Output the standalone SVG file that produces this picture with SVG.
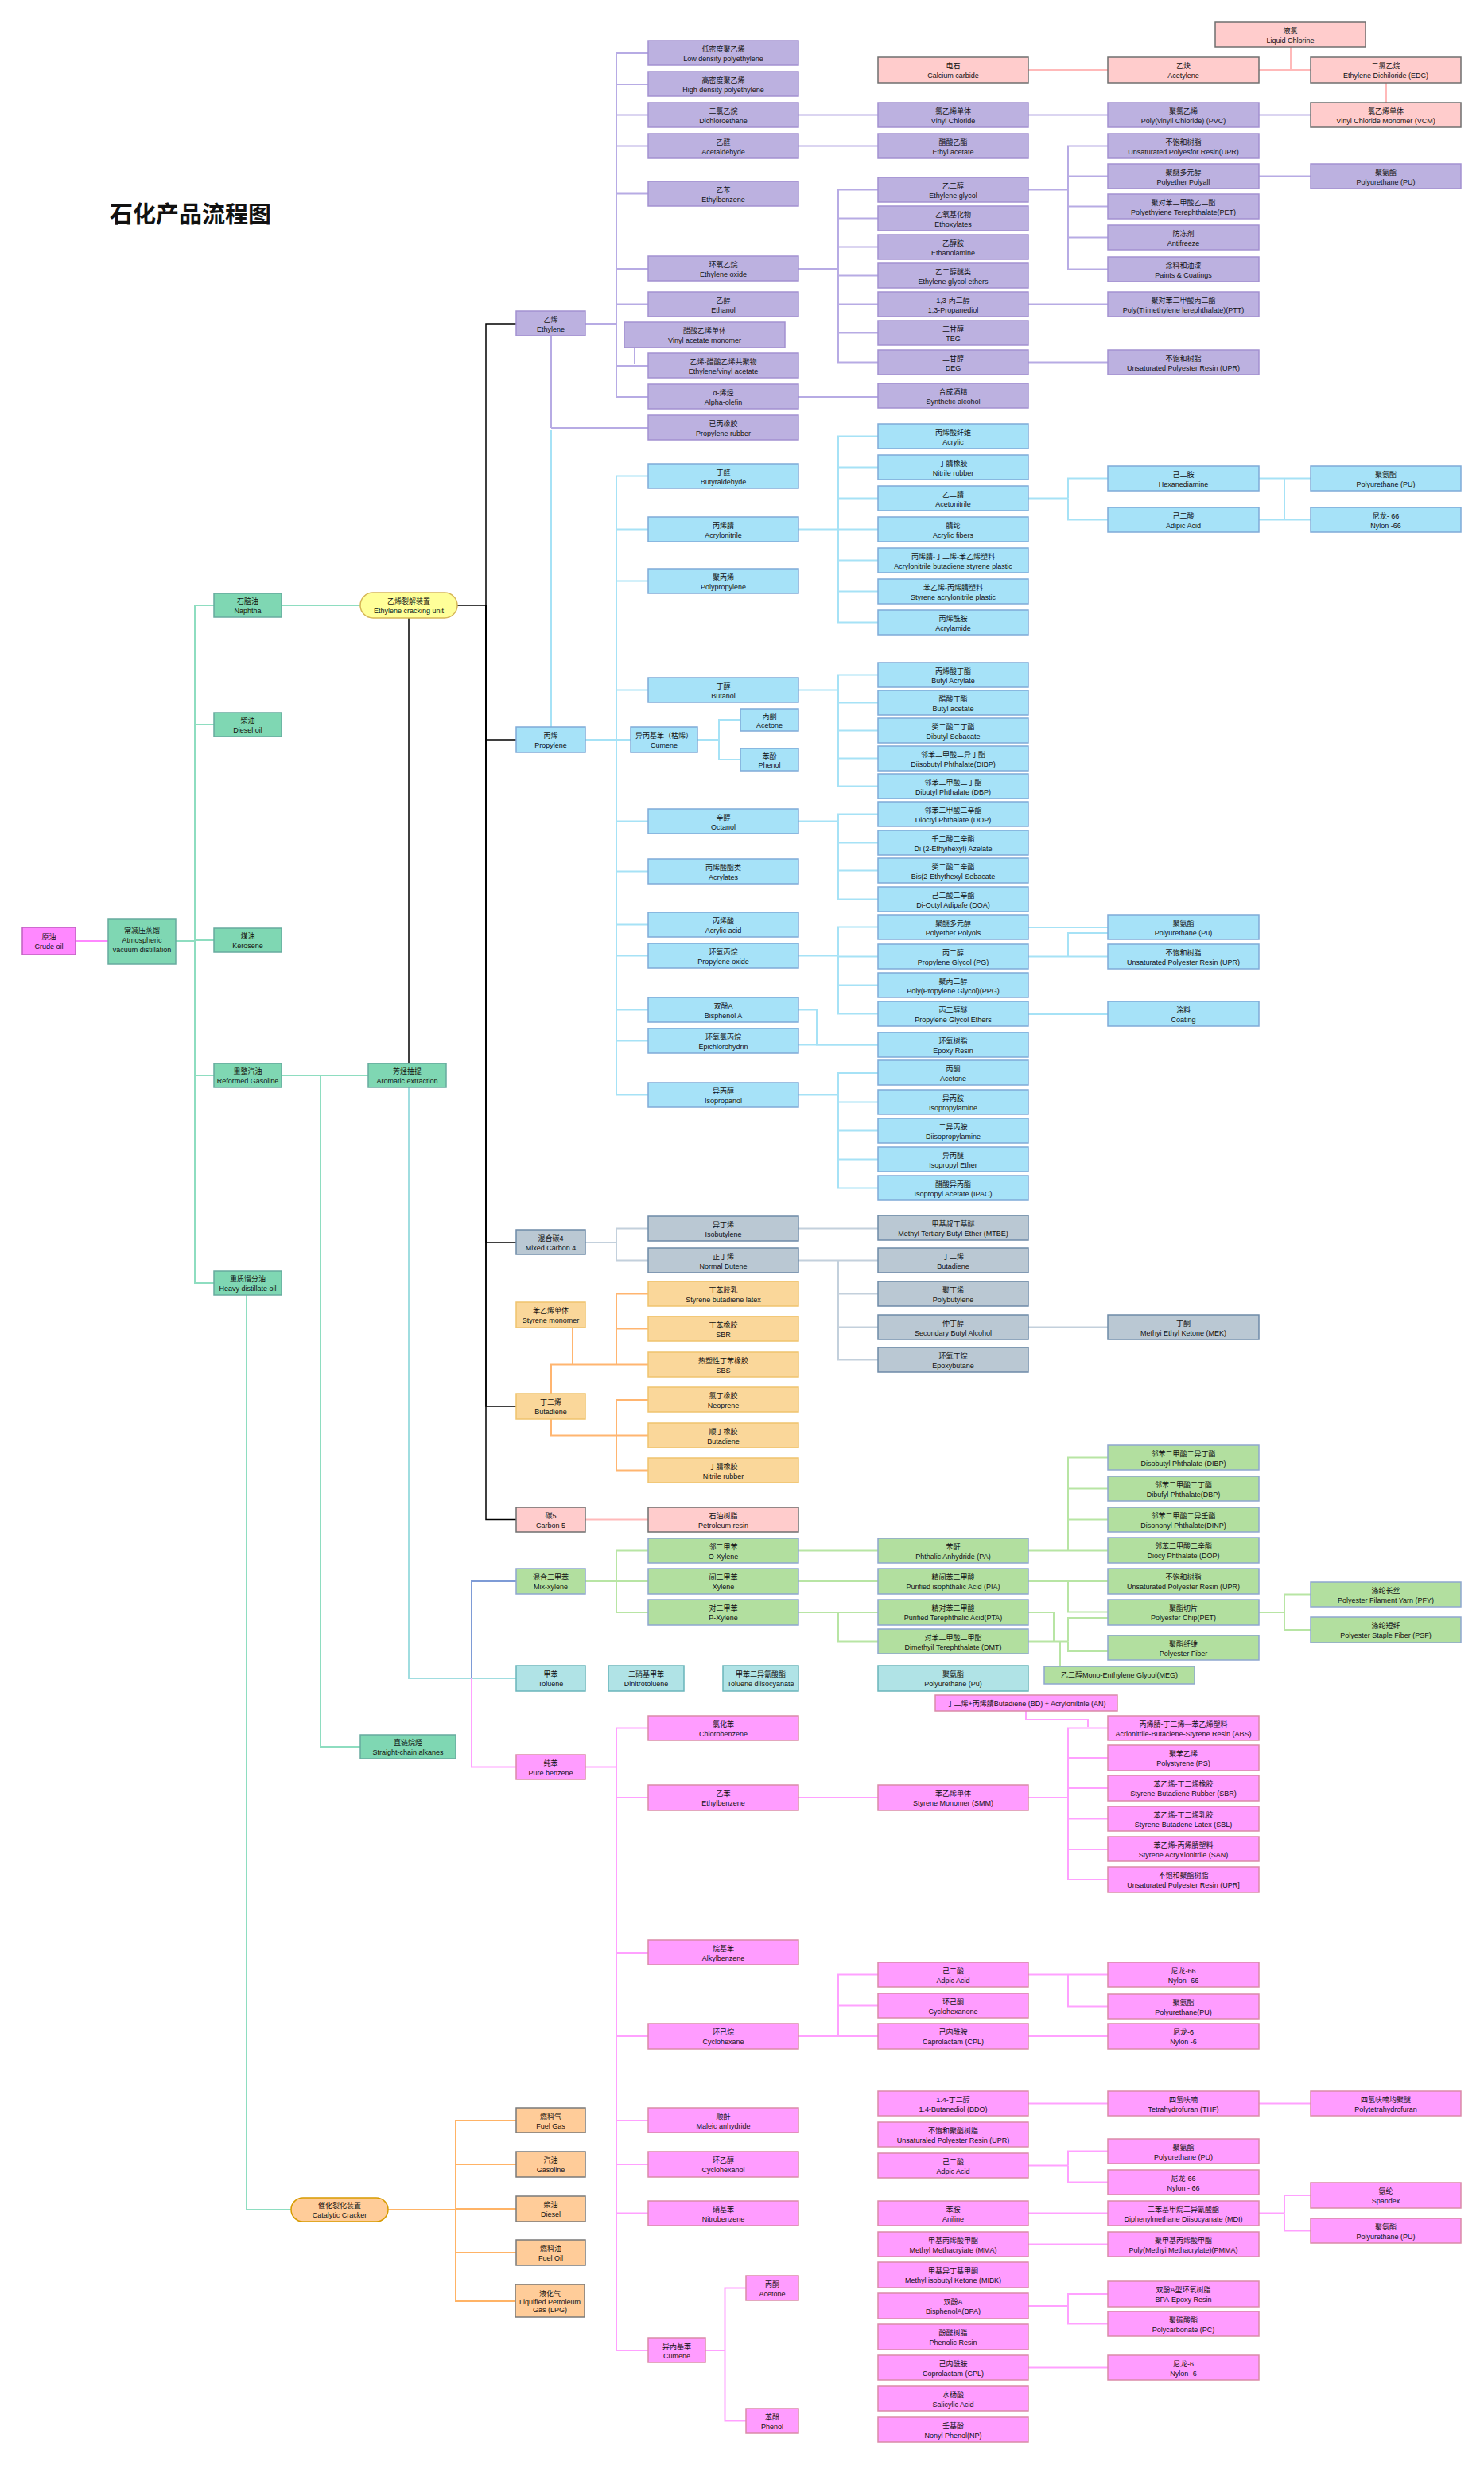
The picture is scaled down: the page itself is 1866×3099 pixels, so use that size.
<svg xmlns="http://www.w3.org/2000/svg" width="1866" height="3099" viewBox="0 0 1866 3099">
<style>
text{font-family:"Liberation Sans","Noto Sans CJK SC",sans-serif;font-size:9px;text-anchor:middle;fill:#111}
.title{font-size:29px;font-weight:bold;text-anchor:start}
rect{stroke-width:1.5}
.pe rect{fill:#BCB1E0;stroke:#A391D1}
.pp rect{fill:#A6E2F8;stroke:#7FAAD8}
.c4 rect{fill:#BAC8D3;stroke:#6E8AA8}
.bd rect{fill:#FAD79A;stroke:#EFC36E}
.c5 rect{fill:#FFCCCC;stroke:#6F6F6F}
.xy rect{fill:#B2DF9F;stroke:#8EA7CF}
.tl rect{fill:#B0E3E6;stroke:#6AB5BB}
.bz rect{fill:#FF9CFF;stroke:#DA8AA8}
.fu rect{fill:#FFCC99;stroke:#7A7A7A}
.mn rect{fill:#7FD7B3;stroke:#67AB9F}
.cr rect{fill:#FF88FF;stroke:#C060C0}
.ec rect{fill:#FFFF99;stroke:#D6B656}
.cc rect{fill:#FFCC99;stroke:#D79B00}
path{fill:none;stroke-width:2}
.lpe{stroke:#B7ABE4;marker-end:url(#ape)}
.lpp{stroke:#A6E2F6;marker-end:url(#app)}
.lc4{stroke:#C3D0DC;marker-end:url(#ac4)}
.lbd{stroke:#FFB570;marker-end:url(#abd)}
.lc5{stroke:#FFB9B9;marker-end:url(#ac5)}
.lxy{stroke:#B8E5A4;marker-end:url(#axy)}
.ltl{stroke:#A0DDE0;marker-end:url(#atl)}
.lbz{stroke:#FFA1FF;marker-end:url(#abz)}
.lfu{stroke:#FFB366;marker-end:url(#afu)}
.lmn{stroke:#8EDDC0;marker-end:url(#amn)}
.lbk{stroke:#000;stroke-width:1.5;marker-end:url(#abk)}
.lmx{stroke:#7E9BD6;marker-end:url(#amx)}
.lcr{stroke:#FF88FF;marker-end:url(#acr)}
.nm{marker-end:none}
</style>
<defs>
<marker id="ape" viewBox="0 0 10 10" refX="10" refY="5" markerWidth="9" markerHeight="9" markerUnits="userSpaceOnUse" orient="auto"><path d="M0,0 L10,5 L0,10 L3,5 z" fill="#B7ABE4" stroke="none"/></marker>
<marker id="app" viewBox="0 0 10 10" refX="10" refY="5" markerWidth="9" markerHeight="9" markerUnits="userSpaceOnUse" orient="auto"><path d="M0,0 L10,5 L0,10 L3,5 z" fill="#A6E2F6" stroke="none"/></marker>
<marker id="ac4" viewBox="0 0 10 10" refX="10" refY="5" markerWidth="9" markerHeight="9" markerUnits="userSpaceOnUse" orient="auto"><path d="M0,0 L10,5 L0,10 L3,5 z" fill="#C3D0DC" stroke="none"/></marker>
<marker id="abd" viewBox="0 0 10 10" refX="10" refY="5" markerWidth="9" markerHeight="9" markerUnits="userSpaceOnUse" orient="auto"><path d="M0,0 L10,5 L0,10 L3,5 z" fill="#FFB570" stroke="none"/></marker>
<marker id="ac5" viewBox="0 0 10 10" refX="10" refY="5" markerWidth="9" markerHeight="9" markerUnits="userSpaceOnUse" orient="auto"><path d="M0,0 L10,5 L0,10 L3,5 z" fill="#FFB9B9" stroke="none"/></marker>
<marker id="axy" viewBox="0 0 10 10" refX="10" refY="5" markerWidth="9" markerHeight="9" markerUnits="userSpaceOnUse" orient="auto"><path d="M0,0 L10,5 L0,10 L3,5 z" fill="#B8E5A4" stroke="none"/></marker>
<marker id="atl" viewBox="0 0 10 10" refX="10" refY="5" markerWidth="9" markerHeight="9" markerUnits="userSpaceOnUse" orient="auto"><path d="M0,0 L10,5 L0,10 L3,5 z" fill="#A0DDE0" stroke="none"/></marker>
<marker id="abz" viewBox="0 0 10 10" refX="10" refY="5" markerWidth="9" markerHeight="9" markerUnits="userSpaceOnUse" orient="auto"><path d="M0,0 L10,5 L0,10 L3,5 z" fill="#FFA1FF" stroke="none"/></marker>
<marker id="afu" viewBox="0 0 10 10" refX="10" refY="5" markerWidth="9" markerHeight="9" markerUnits="userSpaceOnUse" orient="auto"><path d="M0,0 L10,5 L0,10 L3,5 z" fill="#FFB366" stroke="none"/></marker>
<marker id="amn" viewBox="0 0 10 10" refX="10" refY="5" markerWidth="9" markerHeight="9" markerUnits="userSpaceOnUse" orient="auto"><path d="M0,0 L10,5 L0,10 L3,5 z" fill="#8EDDC0" stroke="none"/></marker>
<marker id="abk" viewBox="0 0 10 10" refX="10" refY="5" markerWidth="9" markerHeight="9" markerUnits="userSpaceOnUse" orient="auto"><path d="M0,0 L10,5 L0,10 L3,5 z" fill="#000" stroke="none"/></marker>
<marker id="amx" viewBox="0 0 10 10" refX="10" refY="5" markerWidth="9" markerHeight="9" markerUnits="userSpaceOnUse" orient="auto"><path d="M0,0 L10,5 L0,10 L3,5 z" fill="#7E9BD6" stroke="none"/></marker>
<marker id="acr" viewBox="0 0 10 10" refX="10" refY="5" markerWidth="9" markerHeight="9" markerUnits="userSpaceOnUse" orient="auto"><path d="M0,0 L10,5 L0,10 L3,5 z" fill="#FF88FF" stroke="none"/></marker>
</defs>
<rect width="1866" height="3099" fill="#fff"/>
<text class="title" x="138" y="280">石化产品流程图</text>

<g id="connectors">
<!-- left -->
<path class="lcr" d="M95,1183 H136"/>
<path class="lmn nm" d="M221,1183 H245"/>
<path class="lmn" d="M245,1183 V761 H269"/>
<path class="lmn" d="M245,1183 V911 H269"/>
<path class="lmn" d="M245,1183 V1182 H269"/>
<path class="lmn" d="M245,1183 V1352 H269"/>
<path class="lmn" d="M245,1183 V1613 H269"/>
<path class="lmn" d="M354,761 H453"/>
<path class="lmn" d="M354,1352 H463"/>
<path class="lmn" d="M403,1352 V2196 H453"/>
<path class="lmn" d="M310,1627 V2778 H366"/>
<path class="lbk nm" d="M575,761 H611"/>
<path class="lbk" d="M611,761 V407 H649"/>
<path class="lbk" d="M611,761 V930 H649"/>
<path class="lbk" d="M611,761 V1562 H649"/>
<path class="lbk" d="M611,761 V1768 H649"/>
<path class="lbk" d="M611,761 V1910.5 H649"/>
<path class="lbk" d="M514,777 V1338"/>
<path class="ltl" d="M514,1366 V2110 H649"/>
<path class="lmx" d="M593,2110 V1988 H649"/>
<path class="lbz" d="M593,2110 V2221.5 H649"/>
<path class="lfu nm" d="M488,2778 H573"/>
<path class="lfu" d="M573,2778 V2666 H649"/>
<path class="lfu" d="M573,2778 V2721 H649"/>
<path class="lfu" d="M573,2778 V2777 H649"/>
<path class="lfu" d="M573,2778 V2832 H649"/>
<path class="lfu" d="M573,2778 V2893 H649"/>
<!-- ethylene -->
<path class="lpe nm" d="M736,407 H775"/>
<path class="lpe" d="M775,407 V67 H815"/>
<path class="lpe" d="M775,407 V106 H815"/>
<path class="lpe" d="M775,407 V144.5 H815"/>
<path class="lpe" d="M775,407 V183.5 H815"/>
<path class="lpe" d="M775,407 V243.5 H815"/>
<path class="lpe" d="M775,407 V338 H815"/>
<path class="lpe" d="M775,407 V382.5 H815"/>
<path class="lpe" d="M775,407 V460 H815"/>
<path class="lpe" d="M775,407 V499 H815"/>
<path class="lpe" d="M798,437 V458"/>
<path class="lpe" d="M693,422 V538"/>
<path class="lpe" d="M693,538 H815"/>
<path class="lpe" d="M1004,144.5 H1104"/>
<path class="lpe" d="M1004,183.5 H1104"/>
<path class="lpe nm" d="M1004,338 H1054"/>
<path class="lpe" d="M1054,338 V238.5 H1104"/>
<path class="lpe" d="M1054,338 V274.5 H1104"/>
<path class="lpe" d="M1054,338 V310.5 H1104"/>
<path class="lpe" d="M1054,338 V346.5 H1104"/>
<path class="lpe" d="M1054,338 V382.5 H1104"/>
<path class="lpe" d="M1054,338 V418.5 H1104"/>
<path class="lpe" d="M1054,338 V455.5 H1104"/>
<path class="lpe" d="M1004,499 H1104"/>
<path class="lpe" d="M1293,144.5 H1393"/>
<path class="lpe" d="M1648,144.5 H1583"/>
<path class="lpe nm" d="M1293,238.5 H1343"/>
<path class="lpe" d="M1343,238.5 V183.5 H1393"/>
<path class="lpe" d="M1343,238.5 V221.5 H1393"/>
<path class="lpe" d="M1343,238.5 V259.5 H1393"/>
<path class="lpe" d="M1343,238.5 V298.5 H1393"/>
<path class="lpe" d="M1343,238.5 V338.5 H1393"/>
<path class="lpe" d="M1583,221.5 H1648"/>
<path class="lpe" d="M1293,382.5 H1393"/>
<path class="lpe" d="M1293,455.5 H1393"/>
<!-- calcium carbide -->
<path class="lc5" d="M1293,88 H1393"/>
<path class="lc5" d="M1583,88 H1648"/>
<path class="lc5" d="M1623,59 V88"/>
<path class="lc5" d="M1743,104 V129"/>
<path class="lc5" d="M736,1910.5 H815"/>
<!-- propylene -->
<path class="lpp" d="M693,914 V541"/>
<path class="lpp" d="M736,930 H793"/>
<path class="lpp" d="M775,930 V598.5 H815"/>
<path class="lpp" d="M775,930 V665.5 H815"/>
<path class="lpp" d="M775,930 V730.5 H815"/>
<path class="lpp" d="M775,930 V867.5 H815"/>
<path class="lpp" d="M775,930 V1032.5 H815"/>
<path class="lpp" d="M775,930 V1095.5 H815"/>
<path class="lpp" d="M775,930 V1162.5 H815"/>
<path class="lpp" d="M775,930 V1201.5 H815"/>
<path class="lpp" d="M775,930 V1269.5 H815"/>
<path class="lpp" d="M775,930 V1308.5 H815"/>
<path class="lpp" d="M775,930 V1376.5 H815"/>
<path class="lpp nm" d="M1004,665.5 H1054"/>
<path class="lpp" d="M1054,665.5 V548.5 H1104"/>
<path class="lpp" d="M1054,665.5 V587.5 H1104"/>
<path class="lpp" d="M1054,665.5 V626.5 H1104"/>
<path class="lpp" d="M1054,665.5 V665.5 H1104"/>
<path class="lpp" d="M1054,665.5 V704.5 H1104"/>
<path class="lpp" d="M1054,665.5 V743.5 H1104"/>
<path class="lpp" d="M1054,665.5 V782.5 H1104"/>
<path class="lpp nm" d="M1004,867.5 H1054"/>
<path class="lpp" d="M1054,867.5 V848.5 H1104"/>
<path class="lpp" d="M1054,867.5 V883.5 H1104"/>
<path class="lpp" d="M1054,867.5 V918.5 H1104"/>
<path class="lpp" d="M1054,867.5 V953.5 H1104"/>
<path class="lpp" d="M1054,867.5 V988.5 H1104"/>
<path class="lpp nm" d="M877,930 H904"/>
<path class="lpp" d="M904,930 V905 H931"/>
<path class="lpp" d="M904,930 V955 H931"/>
<path class="lpp nm" d="M1004,1032.5 H1054"/>
<path class="lpp" d="M1054,1032.5 V1023.5 H1104"/>
<path class="lpp" d="M1054,1032.5 V1059.5 H1104"/>
<path class="lpp" d="M1054,1032.5 V1094.5 H1104"/>
<path class="lpp" d="M1054,1032.5 V1130.5 H1104"/>
<path class="lpp nm" d="M1004,1201.5 H1054"/>
<path class="lpp" d="M1054,1201.5 V1165.5 H1104"/>
<path class="lpp" d="M1054,1201.5 V1202.5 H1104"/>
<path class="lpp" d="M1054,1201.5 V1238.5 H1104"/>
<path class="lpp" d="M1054,1201.5 V1274.5 H1104"/>
<path class="lpp" d="M1004,1269.5 H1027 V1313.5 H1104"/>
<path class="lpp" d="M1004,1313.5 H1104"/>
<path class="lpp nm" d="M1004,1376.5 H1054"/>
<path class="lpp" d="M1054,1376.5 V1349 H1104"/>
<path class="lpp" d="M1054,1376.5 V1385.5 H1104"/>
<path class="lpp" d="M1054,1376.5 V1421.5 H1104"/>
<path class="lpp" d="M1054,1376.5 V1457.5 H1104"/>
<path class="lpp" d="M1054,1376.5 V1493.5 H1104"/>
<path class="lpp nm" d="M1293,626.5 H1343"/>
<path class="lpp" d="M1343,626.5 V601.5 H1393"/>
<path class="lpp" d="M1343,626.5 V653.5 H1393"/>
<path class="lpp" d="M1583,601.5 H1648"/>
<path class="lpp" d="M1583,653.5 H1648"/>
<path class="lpp nm" d="M1615,601.5 V653.5"/>
<path class="lpp" d="M1293,1166 H1393"/>
<path class="lpp" d="M1293,1202.5 H1393"/>
<path class="lpp" d="M1343,1202.5 V1173 H1393"/>
<path class="lpp" d="M1293,1275 H1393"/>
<!-- C4 -->
<path class="lc4 nm" d="M736,1562 H775"/>
<path class="lc4" d="M775,1562 V1544.5 H815"/>
<path class="lc4" d="M775,1562 V1584.5 H815"/>
<path class="lc4" d="M1004,1544.5 H1104"/>
<path class="lc4 nm" d="M1004,1584.5 H1054"/>
<path class="lc4" d="M1054,1584.5 H1104"/>
<path class="lc4" d="M1054,1584.5 V1626.5 H1104"/>
<path class="lc4" d="M1054,1584.5 V1668.5 H1104"/>
<path class="lc4" d="M1054,1584.5 V1709.5 H1104"/>
<path class="lc4" d="M1293,1668.5 H1393"/>
<!-- butadiene -->
<path class="lbd" d="M720,1669 V1715"/>
<path class="lbd" d="M693,1752 V1715.5 H815"/>
<path class="lbd" d="M775,1715.5 V1626.5 H815"/>
<path class="lbd" d="M775,1715.5 V1670.5 H815"/>
<path class="lbd" d="M693,1784 V1804.5 H815"/>
<path class="lbd" d="M775,1804.5 V1760 H815"/>
<path class="lbd" d="M775,1804.5 V1848.5 H815"/>
<!-- xylene -->
<path class="lxy nm" d="M736,1988 H775"/>
<path class="lxy" d="M775,1988 V1949.5 H815"/>
<path class="lxy" d="M775,1988 H815"/>
<path class="lxy" d="M775,1988 V2027 H815"/>
<path class="lxy" d="M1004,1949.5 H1104"/>
<path class="lxy" d="M1004,1988 H1104"/>
<path class="lxy" d="M1004,2027 H1104"/>
<path class="lxy" d="M1054,2027 V2063.5 H1104"/>
<path class="lxy nm" d="M1293,1949.5 H1343"/>
<path class="lxy" d="M1343,1949.5 V1832.5 H1393"/>
<path class="lxy" d="M1343,1949.5 V1871.5 H1393"/>
<path class="lxy" d="M1343,1949.5 V1910.5 H1393"/>
<path class="lxy" d="M1343,1949.5 H1393"/>
<path class="lxy" d="M1293,1988 H1393"/>
<path class="lxy" d="M1343,1988 V2026.5 H1393"/>
<path class="lxy nm" d="M1293,2027 H1325 V2063.5"/>
<path class="lxy nm" d="M1293,2063.5 H1343"/>
<path class="lxy" d="M1343,2063.5 V2034 H1393"/>
<path class="lxy" d="M1343,2063.5 V2076 H1393"/>
<path class="lxy" d="M1333,2095 V2064"/>
<path class="lxy nm" d="M1583,2027 H1615"/>
<path class="lxy" d="M1615,2027 V2004.5 H1648"/>
<path class="lxy" d="M1615,2027 V2049 H1648"/>
<!-- benzene -->
<path class="lbz nm" d="M736,2221.5 H775"/>
<path class="lbz" d="M775,2221.5 V2172.5 H815"/>
<path class="lbz" d="M775,2221.5 V2260 H815"/>
<path class="lbz" d="M775,2221.5 V2455 H815"/>
<path class="lbz" d="M775,2221.5 V2560 H815"/>
<path class="lbz" d="M775,2221.5 V2666 H815"/>
<path class="lbz" d="M775,2221.5 V2721 H815"/>
<path class="lbz" d="M775,2221.5 V2782.5 H815"/>
<path class="lbz" d="M775,2221.5 V2955 H815"/>
<path class="lbz" d="M1004,2260 H1104"/>
<path class="lbz nm" d="M1293,2260 H1343"/>
<path class="lbz" d="M1343,2260 V2172.5 H1393"/>
<path class="lbz" d="M1343,2260 V2210 H1393"/>
<path class="lbz" d="M1343,2260 V2248 H1393"/>
<path class="lbz" d="M1343,2260 V2286.5 H1393"/>
<path class="lbz" d="M1343,2260 V2325 H1393"/>
<path class="lbz" d="M1343,2260 V2363 H1393"/>
<path class="lbz" d="M1290,2151 V2162 H1368 V2171"/>
<path class="lbz nm" d="M1004,2560 H1054"/>
<path class="lbz" d="M1054,2560 V2482.5 H1104"/>
<path class="lbz" d="M1054,2560 V2521.5 H1104"/>
<path class="lbz" d="M1054,2560 H1104"/>
<path class="lbz" d="M1293,2482.5 H1393"/>
<path class="lbz" d="M1343,2482.5 V2522.5 H1393"/>
<path class="lbz" d="M1293,2560 H1393"/>
<path class="lbz nm" d="M887,2955 H911.5"/>
<path class="lbz" d="M911.5,2955 V2876.5 H938"/>
<path class="lbz" d="M911.5,2955 V3043.5 H938"/>
<path class="lbz" d="M1293,2644.5 H1393"/>
<path class="lbz" d="M1583,2644.5 H1648"/>
<path class="lbz nm" d="M1293,2722.5 H1343"/>
<path class="lbz" d="M1343,2722.5 V2704.5 H1393"/>
<path class="lbz" d="M1343,2722.5 V2743.5 H1393"/>
<path class="lbz" d="M1293,2782.5 H1393"/>
<path class="lbz nm" d="M1583,2782.5 H1615"/>
<path class="lbz" d="M1615,2782.5 V2760 H1648"/>
<path class="lbz" d="M1615,2782.5 V2804.5 H1648"/>
<path class="lbz" d="M1293,2821.5 H1393"/>
<path class="lbz nm" d="M1293,2899 H1343"/>
<path class="lbz" d="M1343,2899 V2884 H1393"/>
<path class="lbz" d="M1343,2899 V2921.5 H1393"/>
<path class="lbz" d="M1293,2976.5 H1393"/>
</g>

<!-- left nodes -->
<g id="crude-oil" class="cr"><rect x="28" y="1166" width="67" height="34"/><text x="61.5" y="1181">原油<tspan x="61.5" dy="12">Crude oil</tspan></text></g>
<g id="distillation" class="mn"><rect x="136" y="1155" width="85" height="57"/><text x="178.5" y="1173">常减压蒸馏<tspan x="178.5" dy="12">Atmospheric</tspan><tspan x="178.5" dy="12">vacuum distillation</tspan></text></g>
<g id="naphtha" class="mn"><rect x="269" y="746" width="85" height="30"/><text x="311.5" y="759">石脑油<tspan x="311.5" dy="12">Naphtha</tspan></text></g>
<g id="diesel-oil" class="mn"><rect x="269" y="896" width="85" height="30"/><text x="311.5" y="909">柴油<tspan x="311.5" dy="12">Diesel oil</tspan></text></g>
<g id="kerosene" class="mn"><rect x="269" y="1167" width="85" height="30"/><text x="311.5" y="1180">煤油<tspan x="311.5" dy="12">Kerosene</tspan></text></g>
<g id="reformed-gasoline" class="mn"><rect x="269" y="1337" width="85" height="30"/><text x="311.5" y="1350">重整汽油<tspan x="311.5" dy="12">Reformed Gasoline</tspan></text></g>
<g id="heavy-distillate" class="mn"><rect x="269" y="1598" width="85" height="30"/><text x="311.5" y="1611">重质馏分油<tspan x="311.5" dy="12">Heavy distillate oil</tspan></text></g>
<g id="ethylene-cracking" class="ec"><rect x="453" y="745" width="122" height="32" rx="16"/><text x="514" y="759">乙烯裂解装置<tspan x="514" dy="12">Ethylene cracking unit</tspan></text></g>
<g id="aromatic-extraction" class="mn"><rect x="463" y="1337" width="98" height="30"/><text x="512" y="1350">芳烃抽提<tspan x="512" dy="12">Aromatic extraction</tspan></text></g>
<g id="straight-chain" class="mn"><rect x="453" y="2181" width="120" height="30"/><text x="513" y="2194">直链烷烃<tspan x="513" dy="12">Straight-chain alkanes</tspan></text></g>
<g id="catalytic-cracker" class="cc"><rect x="366" y="2763" width="122" height="30" rx="15"/><text x="427" y="2776">催化裂化装置<tspan x="427" dy="12">Catalytic Cracker</tspan></text></g>

<!-- ethylene -->
<g id="ethylene" class="pe"><rect x="649" y="391" width="87" height="31"/><text x="692.5" y="404.5">乙烯<tspan x="692.5" dy="12">Ethylene</tspan></text></g>
<g id="ldpe" class="pe"><rect x="815" y="51" width="189" height="31"/><text x="909.5" y="64.5">低密度聚乙烯<tspan x="909.5" dy="12">Low density polyethylene</tspan></text></g>
<g id="hdpe" class="pe"><rect x="815" y="90" width="189" height="31"/><text x="909.5" y="103.5">高密度聚乙烯<tspan x="909.5" dy="12">High density polyethylene</tspan></text></g>
<g id="dichloroethane" class="pe"><rect x="815" y="129" width="189" height="31"/><text x="909.5" y="142.5">二氯乙烷<tspan x="909.5" dy="12">Dichloroethane</tspan></text></g>
<g id="acetaldehyde" class="pe"><rect x="815" y="168" width="189" height="31"/><text x="909.5" y="181.5">乙醛<tspan x="909.5" dy="12">Acetaldehyde</tspan></text></g>
<g id="ethylbenzene-1" class="pe"><rect x="815" y="228" width="189" height="31"/><text x="909.5" y="241.5">乙苯<tspan x="909.5" dy="12">Ethylbenzene</tspan></text></g>
<g id="ethylene-oxide" class="pe"><rect x="815" y="322" width="189" height="31"/><text x="909.5" y="335.5">环氧乙烷<tspan x="909.5" dy="12">Ethylene oxide</tspan></text></g>
<g id="ethanol" class="pe"><rect x="815" y="367" width="189" height="31"/><text x="909.5" y="380.5">乙醇<tspan x="909.5" dy="12">Ethanol</tspan></text></g>
<g id="vam" class="pe"><rect x="785" y="405" width="202" height="32"/><text x="886" y="418.5">醋酸乙烯单体<tspan x="886" dy="12">Vinyl acetate monomer</tspan></text></g>
<g id="eva" class="pe"><rect x="815" y="444" width="189" height="31"/><text x="909.5" y="457.5">乙烯-醋酸乙烯共聚物<tspan x="909.5" dy="12">Ethylene/vinyl acetate</tspan></text></g>
<g id="alpha-olefin" class="pe"><rect x="815" y="483" width="189" height="31"/><text x="909.5" y="496.5">α-烯烃<tspan x="909.5" dy="12">Alpha-olefin</tspan></text></g>
<g id="propylene-rubber" class="pe"><rect x="815" y="522" width="189" height="31"/><text x="909.5" y="535.5">已丙橡胶<tspan x="909.5" dy="12">Propylene rubber</tspan></text></g>
<g id="vinyl-chloride" class="pe"><rect x="1104" y="129" width="189" height="31"/><text x="1198.5" y="142.5">氯乙烯单体<tspan x="1198.5" dy="12">Vinyl Chloride</tspan></text></g>
<g id="ethyl-acetate" class="pe"><rect x="1104" y="168" width="189" height="31"/><text x="1198.5" y="181.5">醋酸乙酯<tspan x="1198.5" dy="12">Ethyl acetate</tspan></text></g>
<g id="ethylene-glycol" class="pe"><rect x="1104" y="223" width="189" height="31"/><text x="1198.5" y="236.5">乙二醇<tspan x="1198.5" dy="12">Ethylene glycol</tspan></text></g>
<g id="ethoxylates" class="pe"><rect x="1104" y="259" width="189" height="31"/><text x="1198.5" y="272.5">乙氧基化物<tspan x="1198.5" dy="12">Ethoxylates</tspan></text></g>
<g id="ethanolamine" class="pe"><rect x="1104" y="295" width="189" height="31"/><text x="1198.5" y="308.5">乙醇胺<tspan x="1198.5" dy="12">Ethanolamine</tspan></text></g>
<g id="glycol-ethers" class="pe"><rect x="1104" y="331" width="189" height="31"/><text x="1198.5" y="344.5">乙二醇醚类<tspan x="1198.5" dy="12">Ethylene glycol ethers</tspan></text></g>
<g id="propanediol" class="pe"><rect x="1104" y="367" width="189" height="31"/><text x="1198.5" y="380.5">1,3-丙二醇<tspan x="1198.5" dy="12">1,3-Propanediol</tspan></text></g>
<g id="teg" class="pe"><rect x="1104" y="403" width="189" height="31"/><text x="1198.5" y="416.5">三甘醇<tspan x="1198.5" dy="12">TEG</tspan></text></g>
<g id="deg" class="pe"><rect x="1104" y="440" width="189" height="31"/><text x="1198.5" y="453.5">二甘醇<tspan x="1198.5" dy="12">DEG</tspan></text></g>
<g id="synthetic-alcohol" class="pe"><rect x="1104" y="482" width="189" height="31"/><text x="1198.5" y="495.5">合成酒精<tspan x="1198.5" dy="12">Synthetic alcohol</tspan></text></g>
<g id="pvc" class="pe"><rect x="1393" y="129" width="190" height="31"/><text x="1488" y="142.5">聚氯乙烯<tspan x="1488" dy="12">Poly(vinyil Chioride) (PVC)</tspan></text></g>
<g id="upr-1" class="pe"><rect x="1393" y="168" width="190" height="31"/><text x="1488" y="181.5">不饱和树脂<tspan x="1488" dy="12">Unsaturated Polyesfor Resin(UPR)</tspan></text></g>
<g id="polyether-polyall" class="pe"><rect x="1393" y="206" width="190" height="31"/><text x="1488" y="219.5">聚醚多元醇<tspan x="1488" dy="12">Polyether Polyall</tspan></text></g>
<g id="pet-1" class="pe"><rect x="1393" y="244" width="190" height="31"/><text x="1488" y="257.5">聚对苯二甲酸乙二酯<tspan x="1488" dy="12">Polyethyiene Terephthalate(PET)</tspan></text></g>
<g id="antifreeze" class="pe"><rect x="1393" y="283" width="190" height="31"/><text x="1488" y="296.5">防冻剂<tspan x="1488" dy="12">Antifreeze</tspan></text></g>
<g id="paints" class="pe"><rect x="1393" y="323" width="190" height="31"/><text x="1488" y="336.5">涂料和油漆<tspan x="1488" dy="12">Paints &amp; Coatings</tspan></text></g>
<g id="ptt" class="pe"><rect x="1393" y="367" width="190" height="31"/><text x="1488" y="380.5">聚对苯二甲酸丙二酯<tspan x="1488" dy="12">Poly(Trimethyiene lerephthalate)(PTT)</tspan></text></g>
<g id="upr-2" class="pe"><rect x="1393" y="440" width="190" height="31"/><text x="1488" y="453.5">不饱和树脂<tspan x="1488" dy="12">Unsaturated Polyester Resin (UPR)</tspan></text></g>
<g id="pu-1" class="pe"><rect x="1648" y="206" width="189" height="31"/><text x="1742.5" y="219.5">聚氨酯<tspan x="1742.5" dy="12">Polyurethane (PU)</tspan></text></g>

<!-- calcium carbide chain -->
<g id="calcium-carbide" class="c5"><rect x="1104" y="72" width="189" height="32"/><text x="1198.5" y="85.5">电石<tspan x="1198.5" dy="12">Calcium carbide</tspan></text></g>
<g id="acetylene" class="c5"><rect x="1393" y="72" width="190" height="32"/><text x="1488" y="85.5">乙炔<tspan x="1488" dy="12">Acetylene</tspan></text></g>
<g id="liquid-chlorine" class="c5"><rect x="1528" y="28" width="189" height="31"/><text x="1622.5" y="41.5">液氯<tspan x="1622.5" dy="12">Liquid Chlorine</tspan></text></g>
<g id="edc" class="c5"><rect x="1648" y="72" width="189" height="32"/><text x="1742.5" y="85.5">二氯乙烷<tspan x="1742.5" dy="12">Ethylene Dichiloride (EDC)</tspan></text></g>
<g id="vcm" class="c5"><rect x="1648" y="129" width="189" height="31"/><text x="1742.5" y="142.5">氯乙烯单体<tspan x="1742.5" dy="12">Vinyl Chloride Monomer (VCM)</tspan></text></g>

<!-- propylene -->
<g id="propylene" class="pp"><rect x="649" y="914" width="87" height="32"/><text x="692.5" y="927.5">丙烯<tspan x="692.5" dy="12">Propylene</tspan></text></g>
<g id="butyraldehyde" class="pp"><rect x="815" y="583" width="189" height="31"/><text x="909.5" y="596.5">丁醛<tspan x="909.5" dy="12">Butyraldehyde</tspan></text></g>
<g id="acrylonitrile" class="pp"><rect x="815" y="650" width="189" height="31"/><text x="909.5" y="663.5">丙烯腈<tspan x="909.5" dy="12">Acrylonitrile</tspan></text></g>
<g id="polypropylene" class="pp"><rect x="815" y="715" width="189" height="31"/><text x="909.5" y="728.5">聚丙烯<tspan x="909.5" dy="12">Polypropylene</tspan></text></g>
<g id="butanol" class="pp"><rect x="815" y="852" width="189" height="31"/><text x="909.5" y="865.5">丁醇<tspan x="909.5" dy="12">Butanol</tspan></text></g>
<g id="cumene-1" class="pp"><rect x="793" y="914" width="84" height="32"/><text x="835" y="927.5">异丙基苯（枯烯）<tspan x="835" dy="12">Cumene</tspan></text></g>
<g id="acetone-1" class="pp"><rect x="931" y="891" width="73" height="28"/><text x="967.5" y="903.5">丙酮<tspan x="967.5" dy="11">Acetone</tspan></text></g>
<g id="phenol-1" class="pp"><rect x="931" y="941" width="73" height="28"/><text x="967.5" y="953.5">苯酚<tspan x="967.5" dy="11">Phenol</tspan></text></g>
<g id="octanol" class="pp"><rect x="815" y="1017" width="189" height="31"/><text x="909.5" y="1030.5">辛醇<tspan x="909.5" dy="12">Octanol</tspan></text></g>
<g id="acrylates" class="pp"><rect x="815" y="1080" width="189" height="31"/><text x="909.5" y="1093.5">丙烯酸酯类<tspan x="909.5" dy="12">Acrylates</tspan></text></g>
<g id="acrylic-acid" class="pp"><rect x="815" y="1147" width="189" height="31"/><text x="909.5" y="1160.5">丙烯酸<tspan x="909.5" dy="12">Acrylic acid</tspan></text></g>
<g id="propylene-oxide" class="pp"><rect x="815" y="1186" width="189" height="31"/><text x="909.5" y="1199.5">环氧丙烷<tspan x="909.5" dy="12">Propylene oxide</tspan></text></g>
<g id="bisphenol-a-1" class="pp"><rect x="815" y="1254" width="189" height="31"/><text x="909.5" y="1267.5">双酚A<tspan x="909.5" dy="12">Bisphenol A</tspan></text></g>
<g id="epichlorohydrin" class="pp"><rect x="815" y="1293" width="189" height="31"/><text x="909.5" y="1306.5">环氧氯丙烷<tspan x="909.5" dy="12">Epichlorohydrin</tspan></text></g>
<g id="isopropanol" class="pp"><rect x="815" y="1361" width="189" height="31"/><text x="909.5" y="1374.5">异丙醇<tspan x="909.5" dy="12">Isopropanol</tspan></text></g>
<g id="acrylic" class="pp"><rect x="1104" y="533" width="189" height="31"/><text x="1198.5" y="546.5">丙烯酸纤维<tspan x="1198.5" dy="12">Acrylic</tspan></text></g>
<g id="nitrile-rubber-1" class="pp"><rect x="1104" y="572" width="189" height="31"/><text x="1198.5" y="585.5">丁腈橡胶<tspan x="1198.5" dy="12">Nitrile rubber</tspan></text></g>
<g id="acetonitrile" class="pp"><rect x="1104" y="611" width="189" height="31"/><text x="1198.5" y="624.5">乙二腈<tspan x="1198.5" dy="12">Acetonitrile</tspan></text></g>
<g id="acrylic-fibers" class="pp"><rect x="1104" y="650" width="189" height="31"/><text x="1198.5" y="663.5">腈纶<tspan x="1198.5" dy="12">Acrylic fibers</tspan></text></g>
<g id="abs-1" class="pp"><rect x="1104" y="689" width="189" height="31"/><text x="1198.5" y="702.5">丙烯腈-丁二烯-苯乙烯塑料<tspan x="1198.5" dy="12">Acrylonitrile butadiene styrene plastic</tspan></text></g>
<g id="san-1" class="pp"><rect x="1104" y="728" width="189" height="31"/><text x="1198.5" y="741.5">苯乙烯-丙烯腈塑料<tspan x="1198.5" dy="12">Styrene acrylonitrile plastic</tspan></text></g>
<g id="acrylamide" class="pp"><rect x="1104" y="767" width="189" height="31"/><text x="1198.5" y="780.5">丙烯酰胺<tspan x="1198.5" dy="12">Acrylamide</tspan></text></g>
<g id="butyl-acrylate" class="pp"><rect x="1104" y="833" width="189" height="31"/><text x="1198.5" y="846.5">丙烯酸丁酯<tspan x="1198.5" dy="12">Butyl Acrylate</tspan></text></g>
<g id="butyl-acetate" class="pp"><rect x="1104" y="868" width="189" height="31"/><text x="1198.5" y="881.5">醋酸丁酯<tspan x="1198.5" dy="12">Butyl acetate</tspan></text></g>
<g id="dibutyl-sebacate" class="pp"><rect x="1104" y="903" width="189" height="31"/><text x="1198.5" y="916.5">癸二酸二丁酯<tspan x="1198.5" dy="12">Dibutyl Sebacate</tspan></text></g>
<g id="dibp-1" class="pp"><rect x="1104" y="938" width="189" height="31"/><text x="1198.5" y="951.5">邻苯二甲酸二异丁酯<tspan x="1198.5" dy="12">Diisobutyl Phthalate(DIBP)</tspan></text></g>
<g id="dbp-1" class="pp"><rect x="1104" y="973" width="189" height="31"/><text x="1198.5" y="986.5">邻苯二甲酸二丁酯<tspan x="1198.5" dy="12">Dibutyl Phthalate (DBP)</tspan></text></g>
<g id="dop-1" class="pp"><rect x="1104" y="1008" width="189" height="31"/><text x="1198.5" y="1021.5">邻苯二甲酸二辛酯<tspan x="1198.5" dy="12">Dioctyl Phthalate (DOP)</tspan></text></g>
<g id="azelate" class="pp"><rect x="1104" y="1044" width="189" height="31"/><text x="1198.5" y="1057.5">壬二酸二辛酯<tspan x="1198.5" dy="12">Di (2-Ethyihexyl) Azelate</tspan></text></g>
<g id="dos" class="pp"><rect x="1104" y="1079" width="189" height="31"/><text x="1198.5" y="1092.5">癸二酸二辛酯<tspan x="1198.5" dy="12">Bis(2-Ethythexyl Sebacate</tspan></text></g>
<g id="doa" class="pp"><rect x="1104" y="1115" width="189" height="31"/><text x="1198.5" y="1128.5">己二酸二辛酯<tspan x="1198.5" dy="12">Di-Octyl Adipafe (DOA)</tspan></text></g>
<g id="polyether-polyols" class="pp"><rect x="1104" y="1150" width="189" height="31"/><text x="1198.5" y="1163.5">聚醚多元醇<tspan x="1198.5" dy="12">Polyether Polyols</tspan></text></g>
<g id="pg" class="pp"><rect x="1104" y="1187" width="189" height="31"/><text x="1198.5" y="1200.5">丙二醇<tspan x="1198.5" dy="12">Propylene Glycol (PG)</tspan></text></g>
<g id="ppg" class="pp"><rect x="1104" y="1223" width="189" height="31"/><text x="1198.5" y="1236.5">聚丙二醇<tspan x="1198.5" dy="12">Poly(Propylene Glycol)(PPG)</tspan></text></g>
<g id="pg-ethers" class="pp"><rect x="1104" y="1259" width="189" height="31"/><text x="1198.5" y="1272.5">丙二醇醚<tspan x="1198.5" dy="12">Propylene Glycol Ethers</tspan></text></g>
<g id="epoxy-resin" class="pp"><rect x="1104" y="1298" width="189" height="31"/><text x="1198.5" y="1311.5">环氧树脂<tspan x="1198.5" dy="12">Epoxy Resin</tspan></text></g>
<g id="acetone-2" class="pp"><rect x="1104" y="1333" width="189" height="31"/><text x="1198.5" y="1346.5">丙酮<tspan x="1198.5" dy="12">Acetone</tspan></text></g>
<g id="isopropylamine" class="pp"><rect x="1104" y="1370" width="189" height="31"/><text x="1198.5" y="1383.5">异丙胺<tspan x="1198.5" dy="12">Isopropylamine</tspan></text></g>
<g id="diisopropylamine" class="pp"><rect x="1104" y="1406" width="189" height="31"/><text x="1198.5" y="1419.5">二异丙胺<tspan x="1198.5" dy="12">Diisopropylamine</tspan></text></g>
<g id="isopropyl-ether" class="pp"><rect x="1104" y="1442" width="189" height="31"/><text x="1198.5" y="1455.5">异丙醚<tspan x="1198.5" dy="12">Isopropyl Ether</tspan></text></g>
<g id="ipac" class="pp"><rect x="1104" y="1478" width="189" height="31"/><text x="1198.5" y="1491.5">醋酸异丙酯<tspan x="1198.5" dy="12">Isopropyl Acetate (IPAC)</tspan></text></g>
<g id="hexanediamine" class="pp"><rect x="1393" y="586" width="190" height="31"/><text x="1488" y="599.5">己二胺<tspan x="1488" dy="12">Hexanediamine</tspan></text></g>
<g id="adipic-acid-1" class="pp"><rect x="1393" y="638" width="190" height="31"/><text x="1488" y="651.5">己二酸<tspan x="1488" dy="12">Adipic Acid</tspan></text></g>
<g id="pu-2" class="pp"><rect x="1648" y="586" width="189" height="31"/><text x="1742.5" y="599.5">聚氨酯<tspan x="1742.5" dy="12">Polyurethane (PU)</tspan></text></g>
<g id="nylon66-1" class="pp"><rect x="1648" y="638" width="189" height="31"/><text x="1742.5" y="651.5">尼龙- 66<tspan x="1742.5" dy="12">Nylon -66</tspan></text></g>
<g id="pu-3" class="pp"><rect x="1393" y="1150" width="190" height="31"/><text x="1488" y="1163.5">聚氨酯<tspan x="1488" dy="12">Polyurethane (Pu)</tspan></text></g>
<g id="upr-3" class="pp"><rect x="1393" y="1187" width="190" height="31"/><text x="1488" y="1200.5">不饱和树脂<tspan x="1488" dy="12">Unsaturated Polyester Resin (UPR)</tspan></text></g>
<g id="coating" class="pp"><rect x="1393" y="1259" width="190" height="31"/><text x="1488" y="1272.5">涂料<tspan x="1488" dy="12">Coating</tspan></text></g>

<!-- C4 -->
<g id="mixed-c4" class="c4"><rect x="649" y="1546" width="87" height="31"/><text x="692.5" y="1559.5">混合碳4<tspan x="692.5" dy="12">Mixed Carbon 4</tspan></text></g>
<g id="isobutylene" class="c4"><rect x="815" y="1529" width="189" height="31"/><text x="909.5" y="1542.5">异丁烯<tspan x="909.5" dy="12">Isobutylene</tspan></text></g>
<g id="normal-butene" class="c4"><rect x="815" y="1569" width="189" height="31"/><text x="909.5" y="1582.5">正丁烯<tspan x="909.5" dy="12">Normal Butene</tspan></text></g>
<g id="mtbe" class="c4"><rect x="1104" y="1528" width="189" height="31"/><text x="1198.5" y="1541.5">甲基叔丁基醚<tspan x="1198.5" dy="12">Methyl Tertiary Butyl Ether (MTBE)</tspan></text></g>
<g id="butadiene-1" class="c4"><rect x="1104" y="1569" width="189" height="31"/><text x="1198.5" y="1582.5">丁二烯<tspan x="1198.5" dy="12">Butadiene</tspan></text></g>
<g id="polybutylene" class="c4"><rect x="1104" y="1611" width="189" height="31"/><text x="1198.5" y="1624.5">聚丁烯<tspan x="1198.5" dy="12">Polybutylene</tspan></text></g>
<g id="sec-butyl-alcohol" class="c4"><rect x="1104" y="1653" width="189" height="31"/><text x="1198.5" y="1666.5">仲丁醇<tspan x="1198.5" dy="12">Secondary Butyl Alcohol</tspan></text></g>
<g id="epoxybutane" class="c4"><rect x="1104" y="1694" width="189" height="31"/><text x="1198.5" y="1707.5">环氧丁烷<tspan x="1198.5" dy="12">Epoxybutane</tspan></text></g>
<g id="mek" class="c4"><rect x="1393" y="1653" width="190" height="31"/><text x="1488" y="1666.5">丁酮<tspan x="1488" dy="12">Methyi Ethyl Ketone (MEK)</tspan></text></g>

<!-- butadiene -->
<g id="styrene-monomer-1" class="bd"><rect x="649" y="1637" width="87" height="32"/><text x="692.5" y="1650.5">苯乙烯单体<tspan x="692.5" dy="12">Styrene monomer</tspan></text></g>
<g id="butadiene-2" class="bd"><rect x="649" y="1752" width="87" height="32"/><text x="692.5" y="1765.5">丁二烯<tspan x="692.5" dy="12">Butadiene</tspan></text></g>
<g id="sb-latex" class="bd"><rect x="815" y="1611" width="189" height="31"/><text x="909.5" y="1624.5">丁苯胶乳<tspan x="909.5" dy="12">Styrene butadiene latex</tspan></text></g>
<g id="sbr-1" class="bd"><rect x="815" y="1655" width="189" height="31"/><text x="909.5" y="1668.5">丁苯橡胶<tspan x="909.5" dy="12">SBR</tspan></text></g>
<g id="sbs" class="bd"><rect x="815" y="1700" width="189" height="31"/><text x="909.5" y="1713.5">热塑性丁苯橡胶<tspan x="909.5" dy="12">SBS</tspan></text></g>
<g id="neoprene" class="bd"><rect x="815" y="1744" width="189" height="31"/><text x="909.5" y="1757.5">氯丁橡胶<tspan x="909.5" dy="12">Neoprene</tspan></text></g>
<g id="br" class="bd"><rect x="815" y="1789" width="189" height="31"/><text x="909.5" y="1802.5">顺丁橡胶<tspan x="909.5" dy="12">Butadiene</tspan></text></g>
<g id="nitrile-rubber-2" class="bd"><rect x="815" y="1833" width="189" height="31"/><text x="909.5" y="1846.5">丁腈橡胶<tspan x="909.5" dy="12">Nitrile rubber</tspan></text></g>

<!-- C5 -->
<g id="carbon5" class="c5"><rect x="649" y="1895" width="87" height="31"/><text x="692.5" y="1908.5">碳5<tspan x="692.5" dy="12">Carbon 5</tspan></text></g>
<g id="petroleum-resin" class="c5"><rect x="815" y="1895" width="189" height="31"/><text x="909.5" y="1908.5">石油树脂<tspan x="909.5" dy="12">Petroleum resin</tspan></text></g>

<!-- xylene -->
<g id="mix-xylene" class="xy"><rect x="649" y="1972" width="87" height="32"/><text x="692.5" y="1985.5">混合二甲苯<tspan x="692.5" dy="12">Mix-xylene</tspan></text></g>
<g id="o-xylene" class="xy"><rect x="815" y="1934" width="189" height="31"/><text x="909.5" y="1947.5">邻二甲苯<tspan x="909.5" dy="12">O-Xylene</tspan></text></g>
<g id="m-xylene" class="xy"><rect x="815" y="1972" width="189" height="32"/><text x="909.5" y="1985.5">间二甲苯<tspan x="909.5" dy="12">Xylene</tspan></text></g>
<g id="p-xylene" class="xy"><rect x="815" y="2011" width="189" height="32"/><text x="909.5" y="2024.5">对二甲苯<tspan x="909.5" dy="12">P-Xylene</tspan></text></g>
<g id="pa" class="xy"><rect x="1104" y="1934" width="189" height="31"/><text x="1198.5" y="1947.5">苯酐<tspan x="1198.5" dy="12">Phthalic Anhydride (PA)</tspan></text></g>
<g id="pia" class="xy"><rect x="1104" y="1972" width="189" height="32"/><text x="1198.5" y="1985.5">精间苯二甲酸<tspan x="1198.5" dy="12">Purified isophthalic Acid (PIA)</tspan></text></g>
<g id="pta" class="xy"><rect x="1104" y="2011" width="189" height="32"/><text x="1198.5" y="2024.5">精对苯二甲酸<tspan x="1198.5" dy="12">Purified Terephthalic Acid(PTA)</tspan></text></g>
<g id="dmt" class="xy"><rect x="1104" y="2048" width="189" height="31"/><text x="1198.5" y="2061.5">对苯二甲酸二甲酯<tspan x="1198.5" dy="12">Dimethyil Terephthalate (DMT)</tspan></text></g>
<g id="dibp-2" class="xy"><rect x="1393" y="1817" width="190" height="31"/><text x="1488" y="1830.5">邻苯二甲酸二异丁酯<tspan x="1488" dy="12">Disobutyl Phthalate (DIBP)</tspan></text></g>
<g id="dbp-2" class="xy"><rect x="1393" y="1856" width="190" height="31"/><text x="1488" y="1869.5">邻苯二甲酸二丁酯<tspan x="1488" dy="12">Dibufyl Phthalate(DBP)</tspan></text></g>
<g id="dinp" class="xy"><rect x="1393" y="1895" width="190" height="31"/><text x="1488" y="1908.5">邻苯二甲酸二异壬酯<tspan x="1488" dy="12">Disononyl Phthalate(DINP)</tspan></text></g>
<g id="dop-2" class="xy"><rect x="1393" y="1933" width="190" height="32"/><text x="1488" y="1946.5">邻苯二甲酸二辛酯<tspan x="1488" dy="12">Diocy Phthalate (DOP)</tspan></text></g>
<g id="upr-4" class="xy"><rect x="1393" y="1972" width="190" height="32"/><text x="1488" y="1985.5">不饱和树脂<tspan x="1488" dy="12">Unsaturated Polyester Resin (UPR)</tspan></text></g>
<g id="polyester-chip" class="xy"><rect x="1393" y="2011" width="190" height="32"/><text x="1488" y="2024.5">聚酯切片<tspan x="1488" dy="12">Polyesfer Chip(PET)</tspan></text></g>
<g id="polyester-fiber" class="xy"><rect x="1393" y="2056" width="190" height="31"/><text x="1488" y="2069.5">聚酯纤维<tspan x="1488" dy="12">Polyester Fiber</tspan></text></g>
<g id="pfy" class="xy"><rect x="1648" y="1989" width="189" height="31"/><text x="1742.5" y="2002.5">涤纶长丝<tspan x="1742.5" dy="12">Polyester Filament Yarn (PFY)</tspan></text></g>
<g id="psf" class="xy"><rect x="1648" y="2033" width="189" height="32"/><text x="1742.5" y="2046.5">涤纶短纤<tspan x="1742.5" dy="12">Polyester Staple Fiber (PSF)</tspan></text></g>
<g id="meg" class="xy"><rect x="1313" y="2095" width="189" height="22"/><text x="1407.5" y="2109">乙二醇Mono-Enthylene Glyool(MEG)</text></g>

<!-- toluene -->
<g id="toluene" class="tl"><rect x="649" y="2094" width="87" height="32"/><text x="692.5" y="2107.5">甲苯<tspan x="692.5" dy="12">Toluene</tspan></text></g>
<g id="dinitrotoluene" class="tl"><rect x="765" y="2094" width="95" height="32"/><text x="812.5" y="2107.5">二硝基甲苯<tspan x="812.5" dy="12">Dinitrotoluene</tspan></text></g>
<g id="tdi" class="tl"><rect x="909" y="2094" width="95" height="32"/><text x="956.5" y="2107.5">甲苯二异氰酸酯<tspan x="956.5" dy="12">Toluene diisocyanate</tspan></text></g>
<g id="pu-4" class="tl"><rect x="1104" y="2094" width="189" height="32"/><text x="1198.5" y="2107.5">聚氨酯<tspan x="1198.5" dy="12">Polyurethane (Pu)</tspan></text></g>

<!-- benzene -->
<g id="bd-an" class="bz"><rect x="1176" y="2131" width="229" height="20"/><text x="1290.5" y="2144.5">丁二烯+丙烯腈Butadiene (BD) + Acryloniltrile (AN)</text></g>
<g id="pure-benzene" class="bz"><rect x="649" y="2206" width="87" height="31"/><text x="692.5" y="2219.5">纯苯<tspan x="692.5" dy="12">Pure benzene</tspan></text></g>
<g id="chlorobenzene" class="bz"><rect x="815" y="2157" width="189" height="31"/><text x="909.5" y="2170.5">氯化苯<tspan x="909.5" dy="12">Chlorobenzene</tspan></text></g>
<g id="ethylbenzene-2" class="bz"><rect x="815" y="2244" width="189" height="32"/><text x="909.5" y="2257.5">乙苯<tspan x="909.5" dy="12">Ethylbenzene</tspan></text></g>
<g id="smm" class="bz"><rect x="1104" y="2244" width="189" height="32"/><text x="1198.5" y="2257.5">苯乙烯单体<tspan x="1198.5" dy="12">Styrene Monomer (SMM)</tspan></text></g>
<g id="abs-2" class="bz"><rect x="1393" y="2157" width="190" height="31"/><text x="1488" y="2170.5">丙烯腈-丁二烯—苯乙烯塑料<tspan x="1488" dy="12">Acrlonitrile-Butaciene-Styrene Resin (ABS)</tspan></text></g>
<g id="ps" class="bz"><rect x="1393" y="2194" width="190" height="32"/><text x="1488" y="2207.5">聚苯乙烯<tspan x="1488" dy="12">Polystyrene (PS)</tspan></text></g>
<g id="sbr-2" class="bz"><rect x="1393" y="2232" width="190" height="32"/><text x="1488" y="2245.5">苯乙烯-丁二烯橡胶<tspan x="1488" dy="12">Styrene-Butadiene Rubber (SBR)</tspan></text></g>
<g id="sbl" class="bz"><rect x="1393" y="2271" width="190" height="31"/><text x="1488" y="2284.5">苯乙烯-丁二烯乳胶<tspan x="1488" dy="12">Styrene-Butadene Latex (SBL)</tspan></text></g>
<g id="san-2" class="bz"><rect x="1393" y="2309" width="190" height="31"/><text x="1488" y="2322.5">苯乙烯-丙烯腈塑料<tspan x="1488" dy="12">Styrene AcryYlonitrile (SAN)</tspan></text></g>
<g id="upr-5" class="bz"><rect x="1393" y="2347" width="190" height="32"/><text x="1488" y="2360.5">不饱和聚酯树脂<tspan x="1488" dy="12">Unsaturated Polyester Resin (UPR]</tspan></text></g>
<g id="alkylbenzene" class="bz"><rect x="815" y="2439" width="189" height="31"/><text x="909.5" y="2452.5">烷基苯<tspan x="909.5" dy="12">Alkylbenzene</tspan></text></g>
<g id="cyclohexane" class="bz"><rect x="815" y="2544" width="189" height="32"/><text x="909.5" y="2557.5">环己烷<tspan x="909.5" dy="12">Cyclohexane</tspan></text></g>
<g id="adipic-acid-2" class="bz"><rect x="1104" y="2467" width="189" height="31"/><text x="1198.5" y="2480.5">己二酸<tspan x="1198.5" dy="12">Adpic Acid</tspan></text></g>
<g id="cyclohexanone" class="bz"><rect x="1104" y="2506" width="189" height="31"/><text x="1198.5" y="2519.5">环己酮<tspan x="1198.5" dy="12">Cyclohexanone</tspan></text></g>
<g id="cpl-1" class="bz"><rect x="1104" y="2544" width="189" height="32"/><text x="1198.5" y="2557.5">己内酰胺<tspan x="1198.5" dy="12">Caprolactam (CPL)</tspan></text></g>
<g id="nylon66-2" class="bz"><rect x="1393" y="2467" width="190" height="31"/><text x="1488" y="2480.5">尼龙-66<tspan x="1488" dy="12">Nylon -66</tspan></text></g>
<g id="pu-5" class="bz"><rect x="1393" y="2507" width="190" height="31"/><text x="1488" y="2520.5">聚氨酯<tspan x="1488" dy="12">Polyurethane(PU)</tspan></text></g>
<g id="nylon6-1" class="bz"><rect x="1393" y="2544" width="190" height="32"/><text x="1488" y="2557.5">尼龙-6<tspan x="1488" dy="12">Nylon -6</tspan></text></g>
<g id="maleic-anhydride" class="bz"><rect x="815" y="2650" width="189" height="31"/><text x="909.5" y="2663.5">顺酐<tspan x="909.5" dy="12">Maleic anhydride</tspan></text></g>
<g id="cyclohexanol" class="bz"><rect x="815" y="2705" width="189" height="32"/><text x="909.5" y="2718.5">环乙醇<tspan x="909.5" dy="12">Cyclohexanol</tspan></text></g>
<g id="nitrobenzene" class="bz"><rect x="815" y="2767" width="189" height="31"/><text x="909.5" y="2780.5">硝基苯<tspan x="909.5" dy="12">Nitrobenzene</tspan></text></g>
<g id="cumene-2" class="bz"><rect x="815" y="2939" width="72" height="31"/><text x="851" y="2952.5">异丙基苯<tspan x="851" dy="12">Cumene</tspan></text></g>
<g id="acetone-3" class="bz"><rect x="938" y="2861" width="66" height="31"/><text x="971" y="2874.5">丙酮<tspan x="971" dy="12">Acetone</tspan></text></g>
<g id="phenol-2" class="bz"><rect x="938" y="3028" width="66" height="31"/><text x="971" y="3041.5">苯酚<tspan x="971" dy="12">Phenol</tspan></text></g>
<g id="bdo" class="bz"><rect x="1104" y="2629" width="189" height="31"/><text x="1198.5" y="2642.5">1.4-丁二醇<tspan x="1198.5" dy="12">1.4-Butanediol (BDO)</tspan></text></g>
<g id="upr-6" class="bz"><rect x="1104" y="2668" width="189" height="31"/><text x="1198.5" y="2681.5">不饱和聚酯树脂<tspan x="1198.5" dy="12">Unsaturaled Polyester Resin (UPR)</tspan></text></g>
<g id="adipic-acid-3" class="bz"><rect x="1104" y="2707" width="189" height="31"/><text x="1198.5" y="2720.5">己二酸<tspan x="1198.5" dy="12">Adpic Acid</tspan></text></g>
<g id="aniline" class="bz"><rect x="1104" y="2767" width="189" height="31"/><text x="1198.5" y="2780.5">苯胺<tspan x="1198.5" dy="12">Aniline</tspan></text></g>
<g id="mma" class="bz"><rect x="1104" y="2806" width="189" height="31"/><text x="1198.5" y="2819.5">甲基丙烯酸甲酯<tspan x="1198.5" dy="12">Methyl Methacryiate (MMA)</tspan></text></g>
<g id="mibk" class="bz"><rect x="1104" y="2844" width="189" height="32"/><text x="1198.5" y="2857.5">甲基异丁基甲酮<tspan x="1198.5" dy="12">Methyl isobutyl Ketone (MIBK)</tspan></text></g>
<g id="bpa-2" class="bz"><rect x="1104" y="2883" width="189" height="32"/><text x="1198.5" y="2896.5">双酚A<tspan x="1198.5" dy="12">BisphenolA(BPA)</tspan></text></g>
<g id="phenolic-resin" class="bz"><rect x="1104" y="2922" width="189" height="32"/><text x="1198.5" y="2935.5">酚醛树脂<tspan x="1198.5" dy="12">Phenolic Resin</tspan></text></g>
<g id="cpl-2" class="bz"><rect x="1104" y="2961" width="189" height="31"/><text x="1198.5" y="2974.5">己内酰胺<tspan x="1198.5" dy="12">Coprolactam (CPL)</tspan></text></g>
<g id="salicylic-acid" class="bz"><rect x="1104" y="3000" width="189" height="31"/><text x="1198.5" y="3013.5">水杨酸<tspan x="1198.5" dy="12">Salicylic Acid</tspan></text></g>
<g id="nonyl-phenol" class="bz"><rect x="1104" y="3039" width="189" height="31"/><text x="1198.5" y="3052.5">壬基酚<tspan x="1198.5" dy="12">Nonyl Phenol(NP)</tspan></text></g>
<g id="thf" class="bz"><rect x="1393" y="2629" width="190" height="31"/><text x="1488" y="2642.5">四氢呋喃<tspan x="1488" dy="12">Tetrahydrofuran (THF)</tspan></text></g>
<g id="ptmg" class="bz"><rect x="1648" y="2629" width="189" height="31"/><text x="1742.5" y="2642.5">四氢呋喃均聚醚<tspan x="1742.5" dy="12">Polytetrahydrofuran</tspan></text></g>
<g id="pu-6" class="bz"><rect x="1393" y="2689" width="190" height="31"/><text x="1488" y="2702.5">聚氨酯<tspan x="1488" dy="12">Polyurethane (PU)</tspan></text></g>
<g id="nylon66-3" class="bz"><rect x="1393" y="2728" width="190" height="31"/><text x="1488" y="2741.5">尼龙-66<tspan x="1488" dy="12">Nylon - 66</tspan></text></g>
<g id="mdi" class="bz"><rect x="1393" y="2767" width="190" height="31"/><text x="1488" y="2780.5">二苯基甲烷二异氰酸酯<tspan x="1488" dy="12">Diphenylmethane Diisocyanate (MDI)</tspan></text></g>
<g id="pmma" class="bz"><rect x="1393" y="2806" width="190" height="31"/><text x="1488" y="2819.5">聚甲基丙烯酸甲酯<tspan x="1488" dy="12">Poly(Methyi Methacrylate)(PMMA)</tspan></text></g>
<g id="spandex" class="bz"><rect x="1648" y="2744" width="189" height="32"/><text x="1742.5" y="2757.5">氨纶<tspan x="1742.5" dy="12">Spandex</tspan></text></g>
<g id="pu-7" class="bz"><rect x="1648" y="2789" width="189" height="31"/><text x="1742.5" y="2802.5">聚氨酯<tspan x="1742.5" dy="12">Polyurethane (PU)</tspan></text></g>
<g id="bpa-epoxy" class="bz"><rect x="1393" y="2868" width="190" height="32"/><text x="1488" y="2881.5">双酚A型环氧树脂<tspan x="1488" dy="12">BPA-Epoxy Resin</tspan></text></g>
<g id="pc" class="bz"><rect x="1393" y="2906" width="190" height="31"/><text x="1488" y="2919.5">聚碳酸酯<tspan x="1488" dy="12">Polycarbonate (PC)</tspan></text></g>
<g id="nylon6-2" class="bz"><rect x="1393" y="2961" width="190" height="31"/><text x="1488" y="2974.5">尼龙-6<tspan x="1488" dy="12">Nylon -6</tspan></text></g>

<!-- fuels -->
<g id="fuel-gas" class="fu"><rect x="649" y="2650" width="87" height="31"/><text x="692.5" y="2663.5">燃料气<tspan x="692.5" dy="12">Fuel Gas</tspan></text></g>
<g id="gasoline" class="fu"><rect x="649" y="2705" width="87" height="32"/><text x="692.5" y="2718.5">汽油<tspan x="692.5" dy="12">Gasoline</tspan></text></g>
<g id="diesel" class="fu"><rect x="649" y="2761" width="87" height="32"/><text x="692.5" y="2774.5">柴油<tspan x="692.5" dy="12">Diesel</tspan></text></g>
<g id="fuel-oil" class="fu"><rect x="649" y="2816" width="87" height="32"/><text x="692.5" y="2829.5">燃料油<tspan x="692.5" dy="12">Fuel Oil</tspan></text></g>
<g id="lpg" class="fu"><rect x="648" y="2872" width="87" height="41"/><text x="691.5" y="2886.5">液化气<tspan x="691.5" dy="10">Liquified Petroleum</tspan><tspan x="691.5" dy="10">Gas (LPG)</tspan></text></g>
</svg>
